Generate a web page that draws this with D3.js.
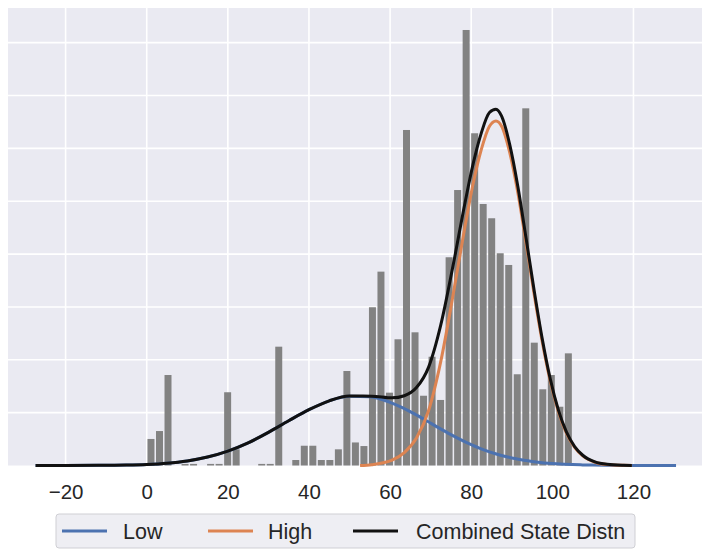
<!DOCTYPE html>
<html>
<head>
<meta charset="utf-8">
<script src="https://cdn.jsdelivr.net/npm/d3@7"></script>
<style>
  html, body { margin: 0; padding: 0; background: #ffffff; }
  svg { display: block; }
  text { font-family: "Liberation Sans", Arial, sans-serif; }
</style>
</head>
<body>
<svg id="chart" width="702" height="551"></svg>
<script>
// ---------------- DATA ----------------
// histogram bins (left edges, width 2.1) and bar heights (density)
const binLefts = [0, 2.1, 4.2, 6.3, 8.4, 10.5, 12.6, 14.7, 16.8, 18.9,
                  21, 23.1, 25.2, 27.3, 29.4, 31.5, 33.6, 35.7, 37.8, 39.9,
                  42, 44.1, 46.2, 48.3, 50.4, 52.5, 54.6, 56.7, 58.8, 60.9,
                  63, 65.1, 67.2, 69.3, 71.4, 73.5, 75.6, 77.7, 79.8, 81.9,
                  84, 86.1, 88.2, 90.3, 92.4, 94.5, 96.6, 98.7, 100.8, 102.9];
const binWidth = 2.1;
const barHeights = [0.00251, 0.00326, 0.00856, 0, 0.00015, 0.00015, 0, 0.00015, 0.00015, 0.00693,
                    0.00153, 0, 0, 0.00015, 0.00015, 0.01124, 0, 0.00052, 0.00187, 0.00187,
                    0.00052, 0.00052, 0.00153, 0.00894, 0.00218, 0.00184, 0.01497, 0.01834, 0.00689, 0.01194,
                    0.03174, 0.01260, 0.00660, 0.01029, 0.00620, 0.01970, 0.02606, 0.04120, 0.03143, 0.02474,
                    0.02339, 0.02008, 0.01897, 0.00863, 0.03379, 0.01162, 0.00721, 0.00856, 0.00556, 0.01061];

// "Low" state curve: sample points
const lowX = [-27.4, -20, -12, -5, 0, 5, 10, 15, 20, 25, 30, 35, 40, 45, 50, 55, 60, 63, 66, 69,
              72, 75, 78, 80, 82, 84, 85.6, 87, 89, 91, 93, 95, 97, 99, 101, 103, 105, 107, 110, 113,
              117, 119.6, 122, 126, 130.5];
const lowY = [0, 0.0000022, 0.000012, 0.000044, 0.000102, 0.000218, 0.000434, 0.000798, 0.00136, 0.00214,
              0.00313, 0.00423, 0.00528, 0.00612, 0.00656, 0.00651, 0.00598, 0.00548, 0.00488, 0.00423,
              0.00356, 0.00292, 0.00233, 0.00197, 0.00165, 0.00136, 0.00116, 0.000997, 0.000798, 0.000631,
              0.000493, 0.00038, 0.00029, 0.000218, 0.000162, 0.000119, 0.000086, 0.000062, 0.000037, 0.000021,
              0.0000097, 0.0000057, 0.0000035, 0.0000013, 0.0000005];

// "High" state curve
const highX = [52.6, 55.5, 60.5, 63.5, 66.5, 69.5, 72.5, 75.5, 78.5, 80.5, 82.5, 84.5, 86.1, 87.5,
               89.5, 91.5, 93.5, 95.5, 97.5, 99.5, 101.5, 103.5, 105.5, 107.5, 110.5, 113.5, 117.5, 119.6];
const highY = [0, 0.00008, 0.0005, 0.00122, 0.0026, 0.0052, 0.00985, 0.01605, 0.02268, 0.0267,
               0.0299, 0.0321, 0.0326, 0.0321, 0.0296, 0.0258, 0.0211, 0.01625, 0.01174, 0.00797,
               0.00509, 0.00304, 0.00171, 0.00091, 0.00031, 0.000092, 0.000015, 0.000003];

// "Combined State Distn" curve
const combX = [-27.4, -20, -12, -5, 0, 5, 10, 15, 20, 25, 30, 35, 40, 45, 50,
               55.5, 60.5, 63.5, 66.5, 69.5, 72.5, 75.5, 78.5, 80.5, 82.5, 84.5, 86.1, 87.5,
               89.5, 91.5, 93.5, 95.5, 97.5, 99.5, 101.5, 103.5, 105.5, 107.5, 110.5, 113.5, 117.5, 119.6];
const combY = [0, 0.0000022, 0.000012, 0.000044, 0.000102, 0.000218, 0.000434, 0.000798, 0.00136, 0.00214,
               0.00313, 0.00423, 0.00528, 0.00612, 0.00657,
               0.00656, 0.0064, 0.0066, 0.00737, 0.00931, 0.0133, 0.01886, 0.02491, 0.02858, 0.03147,
               0.03339, 0.0337, 0.03304, 0.03035, 0.02639, 0.02156, 0.01661, 0.01201, 0.00817, 0.00524,
               0.00315, 0.00179, 0.00097, 0.00034, 0.00011, 0.000024, 0.000009];

const xTicks = [-20, 0, 20, 40, 60, 80, 100, 120];
const yGrid = [0.005, 0.01, 0.015, 0.02, 0.025, 0.03, 0.035, 0.04];
const seriesNames = ["Low", "High", "Combined State Distn"];
const seriesColors = ["#4c72b0", "#dd8452", "#111111"];

// ---------------- LAYOUT ----------------
const svg = d3.select("#chart");
const plot = { left: 8, top: 8, right: 702, bottom: 465.5 };

const x = d3.scaleLinear().domain([-34.2, 136.9]).range([plot.left, plot.right]);
const y = d3.scaleLinear().domain([0, 0.04328]).range([plot.bottom, plot.top]);

// background
svg.append("rect")
  .attr("x", plot.left).attr("y", plot.top)
  .attr("width", plot.right - plot.left).attr("height", plot.bottom - plot.top)
  .attr("fill", "#eaeaf2");

// grid
const grid = svg.append("g");
grid.selectAll("line.v").data(xTicks).enter().append("line")
  .attr("x1", d => x(d)).attr("x2", d => x(d))
  .attr("y1", plot.top).attr("y2", plot.bottom)
  .attr("stroke", "#ffffff").attr("stroke-width", 1.6);
grid.selectAll("line.h").data(yGrid).enter().append("line")
  .attr("x1", plot.left).attr("x2", plot.right)
  .attr("y1", d => y(d)).attr("y2", d => y(d))
  .attr("stroke", "#ffffff").attr("stroke-width", 1.6);

// bars
const rwidth = 0.82;
svg.append("g").selectAll("rect").data(binLefts.map((b, i) => ({ b, h: barHeights[i] })))
  .enter().append("rect")
  .attr("x", d => x(d.b + binWidth * (1 - rwidth) / 2))
  .attr("width", d => x(d.b + binWidth * (1 + rwidth) / 2) - x(d.b + binWidth * (1 - rwidth) / 2))
  .attr("y", d => y(d.h))
  .attr("height", d => y(0) - y(d.h))
  .attr("fill", "#828282");

// curves
const line = d3.line().x(d => x(d[0])).y(d => y(d[1])).curve(d3.curveMonotoneX);
const seriesData = [
  lowX.map((v, i) => [v, lowY[i]]),
  highX.map((v, i) => [v, highY[i]]),
  combX.map((v, i) => [v, combY[i]])
];
seriesData.forEach((pts, k) => {
  svg.append("path").datum(pts)
    .attr("d", line)
    .attr("fill", "none")
    .attr("stroke", seriesColors[k])
    .attr("stroke-width", 3)
    .attr("stroke-linejoin", "round")
    .attr("stroke-linecap", "butt");
});

// x axis labels
const xAxis = d3.axisBottom(x).tickValues(xTicks).tickSize(0).tickPadding(19);
const gx = svg.append("g").attr("transform", `translate(0,${plot.bottom})`).call(xAxis);
gx.select(".domain").remove();
gx.selectAll("text")
  .attr("font-family", "'Liberation Sans', Arial, sans-serif")
  .attr("font-size", 20.5)
  .attr("fill", "#262626");

// legend
const lg = svg.append("g");
lg.append("rect")
  .attr("x", 56).attr("y", 514).attr("width", 579).attr("height", 34)
  .attr("rx", 3).attr("ry", 3)
  .attr("fill", "#eeeef3").attr("stroke", "#cfcfd4").attr("stroke-width", 1);
const legendLineX = [62, 208, 353];
const legendTextX = [123, 268, 416];
seriesNames.forEach((name, k) => {
  lg.append("line")
    .attr("x1", legendLineX[k]).attr("x2", legendLineX[k] + 45)
    .attr("y1", 531).attr("y2", 531)
    .attr("stroke", seriesColors[k]).attr("stroke-width", 3);
  lg.append("text")
    .attr("x", legendTextX[k]).attr("y", 538.5)
    .attr("font-size", 21.5)
    .attr("fill", "#262626")
    .text(name);
});
</script>
</body>
</html>
